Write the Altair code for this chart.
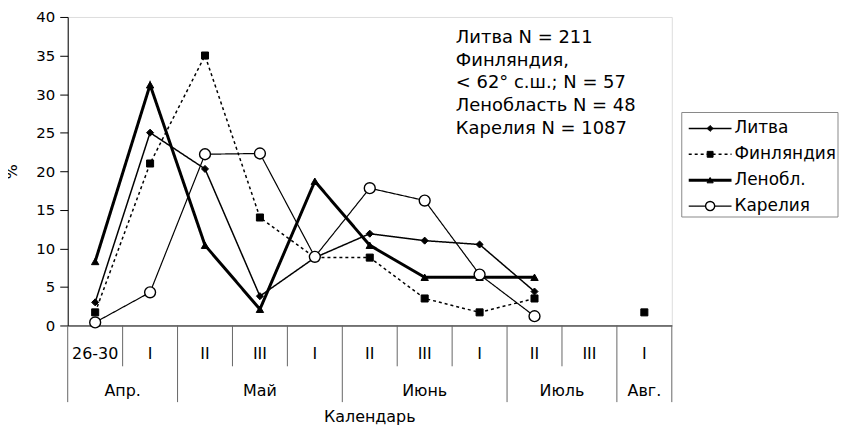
import altair as alt
import pandas as pd

# ---------------- data ----------------
decades = ["26-30", "I", "II", "III", "I", "II", "III", "I", "II", "III", "I"]
months = ["Апр.", "Май", "Июнь", "Июль", "Авг."]
month_spans = [2, 3, 3, 2, 1]

series_names = ["Литва", "Финляндия", "Ленобл.", "Карелия"]
litva = [3.0, 25.0, 20.3, 3.8, 8.8, 11.9, 11.0, 10.5, 4.4, None, None]
finland = [1.7, 21.0, 35.0, 14.0, 8.8, 8.8, 3.5, 1.7, 3.5, None, 1.7]
lenobl = [8.3, 31.2, 10.4, 2.1, 18.7, 10.4, 6.25, 6.25, 6.25, None, None]
karelia = [0.4, 4.3, 22.2, 22.3, 8.9, 17.8, 16.2, 6.6, 1.2, None, None]
series_values = [litva, finland, lenobl, karelia]

notes = ["Литва N = 211", "Финляндия,", "< 62° с.ш.; N = 57",
         "Ленобласть N = 48", "Карелия N = 1087"]
y_ticks = [0, 5, 10, 15, 20, 25, 30, 35, 40]
x_title = "Календарь"
y_title = "%"

# ---------------- styles ----------------
FONT = "DejaVu Sans"
W, H = 607, 310
TOP = 8  # padding above plot area
styles = {
    "Литва":     dict(shape="diamond", size=50, fill="black", sw=1.5, dash=[1, 0], ssw=1),
    "Финляндия": dict(shape="square", size=50, fill="black", sw=1.5, dash=[3, 3], ssw=1),
    "Ленобл.":   dict(shape="triangle-up", size=55, fill="black", sw=3, dash=[1, 0], ssw=1),
    "Карелия":   dict(shape="circle", size=120, fill="white", sw=1.2, dash=[1, 0], ssw=1.4),
}

# long table with line segments broken at gaps
rows = []
for name, vals in zip(series_names, series_values):
    seg = 0
    for i, v in enumerate(vals):
        if v is None:
            seg += 1
            continue
        rows.append(dict(series=name, idx=i, value=v, seg=seg))
df = pd.DataFrame(rows)

xs = alt.Scale(domain=[-0.5, len(decades) - 0.5], nice=False, zero=False)
ys = alt.Scale(domain=[0, 40], nice=False)

x_axis = alt.Axis(labels=False, ticks=False, domain=True, domainColor="black",
                  grid=False, title=None)
y_axis = alt.Axis(values=y_ticks, grid=False, title=y_title, domainColor="black",
                  tickColor="black", tickSize=8, labelPadding=5, labelFont=FONT,
                  labelFontSize=15, labelColor="black", titleFont=FONT,
                  titleFontSize=16, titleFontWeight="normal", titleColor="black",
                  titleX=-56, titleY=H / 2, titleAngle=270, titleBaseline="middle",
                  titleAlign="center")

X = alt.X("idx:Q", scale=xs, axis=x_axis)
Y = alt.Y("value:Q", scale=ys, axis=y_axis)

layers = []
for name in series_names:
    st = styles[name]
    d = df[df.series == name]
    layers.append(
        alt.Chart(d).mark_line(color="black", strokeWidth=st["sw"],
                               strokeDash=st["dash"])
        .encode(x=X, y=Y, detail="seg:N")
    )
for name in series_names:
    st = styles[name]
    d = df[df.series == name]
    layers.append(
        alt.Chart(d).mark_point(shape=st["shape"], size=st["size"], filled=True,
                                fill=st["fill"], stroke="black",
                                strokeWidth=st["ssw"], opacity=1)
        .encode(x=X, y=Y)
    )

# ---------------- x axis: two-level category labels ----------------
dec_df = pd.DataFrame({"idx": list(range(len(decades))), "label": decades})
month_centers, bounds_long = [], [-0.5]
start = 0
for span in month_spans:
    month_centers.append(start + (span - 1) / 2)
    start += span
    bounds_long.append(start - 0.5)
mon_df = pd.DataFrame({"idx": month_centers, "label": months})
all_bounds = [i - 0.5 for i in range(len(decades) + 1)]
short_df = pd.DataFrame({"idx": [b for b in all_bounds if b not in bounds_long]})
long_df = pd.DataFrame({"idx": bounds_long})

txt = dict(font=FONT, fontSize=16, color="black", baseline="middle")
layers.append(alt.Chart(dec_df).mark_text(align="center", **txt)
              .encode(x=X, y=alt.value(H + 29), text="label:N"))
layers.append(alt.Chart(mon_df).mark_text(align="center", **txt)
              .encode(x=X, y=alt.value(H + 66), text="label:N"))
layers.append(alt.Chart(short_df).mark_rule(color="#666", strokeWidth=1)
              .encode(x=X, y=alt.value(H), y2=alt.value(H + 41)))
layers.append(alt.Chart(long_df).mark_rule(color="#666", strokeWidth=1)
              .encode(x=X, y=alt.value(H), y2=alt.value(H + 77)))
layers.append(alt.Chart(pd.DataFrame({"t": [x_title]})).mark_text(align="center", **txt)
              .encode(x=alt.value(W / 2), y=alt.value(H + 92), text="t:N"))

# ---------------- annotation ----------------
notes_df = pd.DataFrame({"t": notes, "py": [21 + 22.8 * i for i in range(len(notes))]})
layers.append(alt.Chart(notes_df).mark_text(align="left", font=FONT, fontSize=18,
                                            color="black", baseline="middle")
              .encode(x=alt.value(390), y=alt.Y("py:Q", scale=None), text="t:N"))

# ---------------- legend ----------------
layers.append(alt.Chart(pd.DataFrame({"a": [0]})).mark_rect(fill="white", stroke="#888",
                                                             strokeWidth=1)
              .encode(x=alt.value(617), x2=alt.value(774), y=alt.value(96), y2=alt.value(201)))
for k, name in enumerate(series_names):
    st = styles[name]
    ly = 112 + 26 * k
    ldf = pd.DataFrame({"series": [name], "py": [ly]})
    layers.append(alt.Chart(ldf).mark_rule(color="black", strokeWidth=st["sw"],
                                           strokeDash=st["dash"])
                  .encode(x=alt.value(624), x2=alt.value(667), y=alt.Y("py:Q", scale=None)))
    layers.append(alt.Chart(ldf).mark_point(shape=st["shape"], size=st["size"] * 0.7,
                                            filled=True, fill=st["fill"], stroke="black",
                                            strokeWidth=st["ssw"], opacity=1)
                  .encode(x=alt.value(645.5), y=alt.Y("py:Q", scale=None)))
    layers.append(alt.Chart(ldf).mark_text(align="left", font=FONT, fontSize=17,
                                           color="black", baseline="middle")
                  .encode(x=alt.value(670), y=alt.Y("py:Q", scale=None), text="series:N"))

chart = alt.layer(*layers).properties(
    width=W, height=H,
    autosize=alt.AutoSizeParams(type="none"),
    padding={"left": 60, "top": TOP, "right": 168, "bottom": 102},
).configure_view(stroke="#8c8c8c", strokeWidth=1).configure(background="white")

chart.save("out.html", embed_options={"renderer": "svg", "actions": False})
